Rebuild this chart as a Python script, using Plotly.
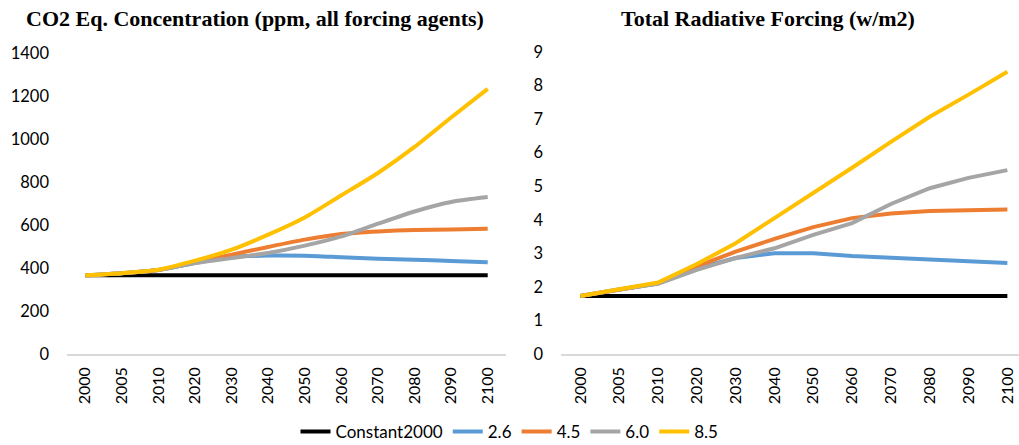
import plotly.graph_objects as go

# Years on the category axis (uneven steps, drawn evenly like the original)
years = ["2000", "2005", "2010", "2020", "2030", "2040", "2050",
         "2060", "2070", "2080", "2090", "2100"]

# CO2 equivalent concentration (ppm, all forcing agents)
co2_const = [366, 366, 366, 366, 366, 366, 366, 366, 366, 366, 366, 366]
co2_26 = [366, 376, 391, 423, 450, 458, 457, 450, 443, 438, 433, 427]
co2_45 = [366, 376, 391, 426, 462, 498, 532, 558, 570, 577, 579, 582]
co2_60 = [366, 376, 391, 423, 446, 470, 504, 547, 606, 663, 707, 730]
co2_85 = [366, 376, 392, 434, 485, 555, 635, 738, 842, 963, 1100, 1233]

# Total radiative forcing (w/m2)
rf_const = [1.73, 1.73, 1.73, 1.73, 1.73, 1.73, 1.73, 1.73, 1.73, 1.73, 1.73, 1.73]
rf_26 = [1.73, 1.93, 2.11, 2.55, 2.86, 3.00, 3.00, 2.92, 2.86, 2.80, 2.76, 2.71]
rf_45 = [1.73, 1.93, 2.11, 2.61, 3.05, 3.43, 3.78, 4.05, 4.19, 4.26, 4.28, 4.31]
rf_60 = [1.73, 1.93, 2.09, 2.51, 2.86, 3.15, 3.55, 3.90, 4.47, 4.94, 5.25, 5.48]
rf_85 = [1.73, 1.93, 2.13, 2.68, 3.30, 4.05, 4.79, 5.55, 6.32, 7.07, 7.73, 8.41]

names = ["Constant2000", "2.6", "4.5", "6.0", "8.5"]
colors = ["#000000", "#5B9BD5", "#ED7D31", "#A5A5A5", "#FFC000"]

left_series = [co2_const, co2_26, co2_45, co2_60, co2_85]
right_series = [rf_const, rf_26, rf_45, rf_60, rf_85]

W, H = 1019, 445

fig = go.Figure()

# left panel - Excel "smoothed line" look
for name, color, vals in zip(names, colors, left_series):
    fig.add_trace(go.Scatter(
        x=years, y=vals, name=name, mode="lines",
        line=dict(color=color, width=4, shape="spline", smoothing=0.6),
        xaxis="x", yaxis="y", legendgroup=name, showlegend=True,
    ))

# right panel - straight segments
for name, color, vals in zip(names, colors, right_series):
    fig.add_trace(go.Scatter(
        x=years, y=vals, name=name, mode="lines",
        line=dict(color=color, width=4),
        xaxis="x2", yaxis="y2", legendgroup=name, showlegend=False,
    ))

tick_font = dict(family="Lato, Liberation Sans, sans-serif", size=16.5, color="#000000")
xtick_font = dict(family="Lato, Liberation Sans, sans-serif", size=16, color="#000000")
title_font = dict(family="Liberation Serif, Times New Roman, serif", size=22, color="#000000")

xaxis_common = dict(
    type="category", tickangle=-90, tickfont=xtick_font,
    showgrid=False, zeroline=False, showline=True, linecolor="#D9D9D9",
    linewidth=1.5, ticks="", fixedrange=True, ticklabelstandoff=5,
)
yaxis_common = dict(
    showgrid=False, zeroline=False, showline=False, ticks="",
    tickfont=tick_font, fixedrange=True, ticklabelstandoff=17,
)

fig.update_layout(
    width=W,
    height=H,
    margin=dict(l=0, r=0, t=0, b=0, autoexpand=False),
    paper_bgcolor="white",
    plot_bgcolor="white",
    xaxis=dict(xaxis_common, domain=[67 / W, 506 / W], range=[-0.5, 11.5],
               anchor="y"),
    yaxis=dict(yaxis_common, domain=[1 - 354 / H, 1 - 53 / H], range=[0, 1400],
               tickvals=[0, 200, 400, 600, 800, 1000, 1200, 1400], anchor="x"),
    xaxis2=dict(xaxis_common, domain=[561 / W, 1.0], range=[-0.5, 11.3],
                anchor="y2"),
    yaxis2=dict(yaxis_common, domain=[1 - 354 / H, 1 - 52 / H], range=[0, 9],
                tickvals=list(range(10)), anchor="x2"),
    legend=dict(
        orientation="h", x=0.5, xanchor="center", y=1 - 432 / H, yanchor="middle",
        font=dict(family="Lato, sans-serif", size=17, color="#000000"),
        itemwidth=30, tracegroupgap=0,
    ),
    annotations=[
        dict(text="<b>CO2 Eq. Concentration (ppm, all forcing agents)</b>",
             x=255 / W, y=1 - 18 / H, xref="paper", yref="paper",
             xanchor="center", yanchor="middle", showarrow=False,
             font=title_font),
        dict(text="<b>Total Radiative Forcing (w/m2)</b>",
             x=768 / W, y=1 - 18 / H, xref="paper", yref="paper",
             xanchor="center", yanchor="middle", showarrow=False,
             font=title_font),
    ],
)

# drop the default page margin so the figure sits at the window's corner
fig.write_html("out.html", config={"displayModeBar": False},
               post_script="document.body.style.margin='0';")
